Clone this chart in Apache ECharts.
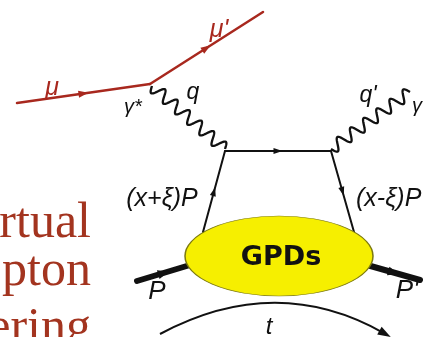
<!DOCTYPE html>
<html>
<head>
<meta charset="utf-8">
<script src="https://cdn.jsdelivr.net/npm/echarts@6/dist/echarts.min.js"></script>
<style>
  html, body { margin: 0; padding: 0; background: #ffffff; }
  #chart { width: 423px; height: 337px; }
</style>
</head>
<body>
<div id="chart"></div>
<script>
// Diagram points live in a 423 x 337 frame, y measured downward.
// Each propagator is [x1, y1, x2, y2], drawn from start to end.
const muonLines   = [[17, 103, 150, 84], [150, 84, 263, 12]];
const quarkLines  = [[203, 232, 225, 151], [225, 151, 331, 151], [331, 151, 354, 232]];
const photonLines = [[152, 86, 225, 149], [331, 149, 410, 92]];
const protonLines = [[137, 281, 190, 265], [367, 265, 420, 280]];
// momentum-transfer arc: start, control point, end
const tArc = [[160, 334], [276, 272], [389, 336]];
// hadronic blob: centre
const blob = [[279, 256]];

const labelTexts  = ['μ', "μ'", 'γ*', 'q', "q'", 'γ', '(x+ξ)P', '(x-ξ)P', 'P', "P'", 't', 'GPDs'];
const labelPoints = [[52, 88], [219, 30], [133, 107], [193, 93], [368, 96], [417, 106],
                     [162, 199], [356, 199], [157, 292], [407, 291], [269, 327], [281, 258]];
// slide title fragments, right-aligned, anchored at their baselines
const titleLines  = ['rtual', 'pton', 'ering'];
const titlePoints = [[91, 240], [91, 288], [91, 345]];

const RED = '#a8281e';
const TITLE_RED = '#a3341f';
const SANS = '"Liberation Sans", Arial, Helvetica, sans-serif';

function unit(a, b) {
  const dx = b[0] - a[0], dy = b[1] - a[1];
  const L = Math.hypot(dx, dy);
  return { ux: dx / L, uy: dy / L, L };
}

function arrowHead(tip, ux, uy, len, wid, color) {
  const bx = tip[0] - ux * len, by = tip[1] - uy * len;
  return {
    type: 'polygon',
    shape: { points: [tip, [bx - uy * wid / 2, by + ux * wid / 2], [bx + uy * wid / 2, by - ux * wid / 2]] },
    style: { fill: color }
  };
}

// straight propagator with an arrow at its middle
function straightLine(color, width, aLen, aWid) {
  return function (params, api) {
    const a = api.coord([api.value(0), api.value(1)]);
    const b = api.coord([api.value(2), api.value(3)]);
    const u = unit(a, b);
    const mid = [(a[0] + b[0]) / 2 + u.ux * aLen / 2, (a[1] + b[1]) / 2 + u.uy * aLen / 2];
    return {
      type: 'group',
      children: [
        { type: 'line', shape: { x1: a[0], y1: a[1], x2: b[0], y2: b[1] },
          style: { stroke: color, lineWidth: width, lineCap: 'round' } },
        arrowHead(mid, u.ux, u.uy, aLen, aWid, color)
      ]
    };
  };
}

// wavy photon propagator
function wavyLine(params, api) {
  const a = api.coord([api.value(0), api.value(1)]);
  const b = api.coord([api.value(2), api.value(3)]);
  const u = unit(a, b);
  const cycles = 6, amp = 6, steps = 240;
  const pts = [];
  for (let i = 0; i <= steps; i++) {
    const t = i / steps;
    const s = t * u.L;
    const off = amp * Math.sin(2 * Math.PI * cycles * t);
    pts.push([a[0] + u.ux * s - u.uy * off, a[1] + u.uy * s + u.ux * off]);
  }
  return { type: 'polyline', shape: { points: pts },
           style: { stroke: '#111', lineWidth: 2.3, fill: null, lineJoin: 'round' } };
}

function arcItem(params, api) {
  const p0 = api.coord(tArc[0]), c = api.coord(tArc[1]), p1 = api.coord(tArc[2]);
  const u = unit(c, p1);
  return {
    type: 'group',
    children: [
      { type: 'bezierCurve',
        shape: { x1: p0[0], y1: p0[1], x2: p1[0] - u.ux * 6, y2: p1[1] - u.uy * 6, cpx1: c[0], cpy1: c[1] },
        style: { stroke: '#111', lineWidth: 2, fill: null } },
      arrowHead([p1[0] + u.ux * 2, p1[1] + u.uy * 2], u.ux, u.uy, 13, 9, '#111')
    ]
  };
}

const labelStyles = [
  { font: 'italic 25px ' + SANS, fill: RED, align: 'center' },
  { font: 'italic 25px ' + SANS, fill: RED, align: 'center' },
  { font: 'italic 20px ' + SANS, fill: '#111', align: 'center' },
  { font: 'italic 23px ' + SANS, fill: '#111', align: 'center' },
  { font: 'italic 23px ' + SANS, fill: '#111', align: 'center' },
  { font: 'italic 20px ' + SANS, fill: '#111', align: 'center' },
  { font: 'italic 25px ' + SANS, fill: '#111', align: 'center' },
  { font: 'italic 25px ' + SANS, fill: '#111', align: 'left' },
  { font: 'italic 26px ' + SANS, fill: '#111', align: 'center' },
  { font: 'italic 26px ' + SANS, fill: '#111', align: 'center' },
  { font: 'italic 24px ' + SANS, fill: '#111', align: 'center' },
  { font: 'bold 27px "DejaVu Sans", ' + SANS, fill: '#111', align: 'center' }
];

function labelItem(params, api) {
  const p = api.coord([api.value(0), api.value(1)]);
  const st = labelStyles[params.dataIndex];
  return { type: 'text', x: p[0], y: p[1],
           style: { text: labelTexts[params.dataIndex], font: st.font, fill: st.fill,
                    align: st.align, verticalAlign: 'middle' } };
}

// title text: the box top sits about 0.83 em above the baseline
function titleItem(params, api) {
  const p = api.coord([api.value(0), api.value(1)]);
  const size = 50;
  return { type: 'text', x: p[0], y: p[1] - size * 0.83,
           style: { text: titleLines[params.dataIndex], font: size + 'px "Liberation Serif", "Times New Roman", serif',
                    fill: TITLE_RED, align: 'right', verticalAlign: 'top' } };
}

const chart = echarts.init(document.getElementById('chart'), null, { renderer: 'canvas' });
chart.setOption({
  backgroundColor: '#ffffff',
  animation: false,
  grid: { left: 0, right: 0, top: 0, bottom: 0 },
  xAxis: { type: 'value', min: 0, max: 423, show: false },
  yAxis: { type: 'value', min: 0, max: 337, inverse: true, show: false },
  series: [
    { type: 'custom', renderItem: titleItem, data: titlePoints, clip: false, silent: true },
    { type: 'custom', renderItem: wavyLine, data: photonLines, silent: true },
    { type: 'custom', renderItem: straightLine('#111', 2, 9, 6), data: quarkLines, silent: true },
    { type: 'custom', renderItem: straightLine(RED, 2.5, 10, 7), data: muonLines, silent: true },
    { type: 'custom', renderItem: straightLine('#111', 6, 11, 9), data: protonLines, silent: true },
    { type: 'scatter', data: blob, symbol: 'circle', symbolSize: [188, 80], silent: true,
      itemStyle: { color: '#f6ef00', borderColor: '#7d7a10', borderWidth: 1, opacity: 1 }, z: 3 },
    { type: 'custom', renderItem: arcItem, data: [0], silent: true },
    { type: 'custom', renderItem: labelItem, data: labelPoints, silent: true, z: 5 }
  ]
});
</script>
</body>
</html>
